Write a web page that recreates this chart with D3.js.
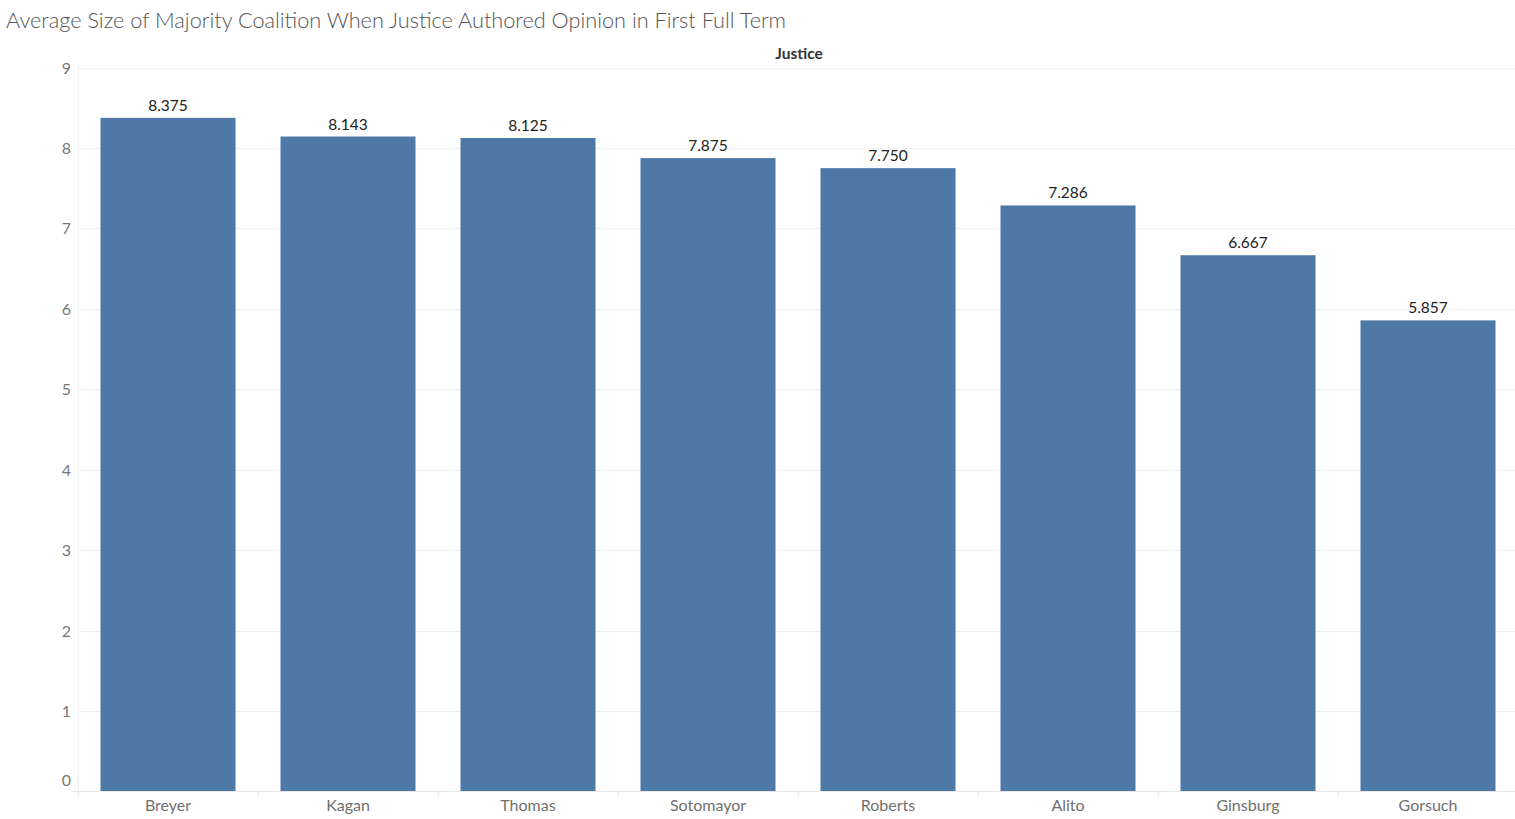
<!DOCTYPE html>
<html><head><meta charset="utf-8">
<script src="https://cdn.jsdelivr.net/npm/d3@7"></script>
<style>body{margin:0;background:#fff;font-family:Lato,"Open Sans",sans-serif;}</style>
</head><body><svg id="c" width="1515" height="819"></svg>
<script>
const justices = ["Breyer","Kagan","Thomas","Sotomayor","Roberts","Alito","Ginsburg","Gorsuch"];
const avgSize = [8.375,8.143,8.125,7.875,7.750,7.286,6.667,5.857];
const valueLabels = ["8.375","8.143","8.125","7.875","7.750","7.286","6.667","5.857"];
const yTicks = [0,1,2,3,4,5,6,7,8,9];

const svg = d3.select("#c");
const L = 78, R = 1518, T = 67.6, B = 791.4;
const x = d3.scaleBand().domain(justices).range([L, R]).paddingInner(0.25).paddingOuter(0.125);
const y = d3.scaleLinear().domain([0, 9]).range([B, T]);

svg.append("text").attr("x", 6).attr("y", 28).attr("font-size", 21.7).attr("font-weight", 300).attr("fill", "#555")
  .text("Average Size of Majority Coalition When Justice Authored Opinion in First Full Term");
svg.append("text").attr("x", 799).attr("y", 59).attr("text-anchor","middle").attr("font-size", 15.5)
  .attr("font-weight","bold").attr("fill","#333").text("Justice");

// gridlines
svg.append("g").selectAll("line").data(yTicks).join("line")
  .attr("x1", L).attr("x2", 1515).attr("y1", d => Math.round(y(d))+0.5).attr("y2", d => Math.round(y(d))+0.5)
  .attr("stroke", "#f0f0f0").attr("stroke-width", 1);
// y axis line
svg.append("line").attr("x1", L+0.5).attr("x2", L+0.5).attr("y1", T-2).attr("y2", B).attr("stroke","#f0f0f0");
// y tick labels
svg.append("g").selectAll("text").data(yTicks).join("text")
  .attr("x", 71).attr("y", d => y(d) + (d===0 ? -5 : 6)).attr("text-anchor","end")
  .attr("font-size", 16).attr("fill", "#777").text(d => d);

// bars
svg.append("g").selectAll("rect").data(justices).join("rect")
  .attr("x", d => x(d)).attr("width", x.bandwidth())
  .attr("y", (d,i) => y(avgSize[i])).attr("height", (d,i) => y(0) - y(avgSize[i]))
  .attr("fill", "#4e79a7");
// value labels
svg.append("g").selectAll("text").data(justices).join("text")
  .attr("x", d => x(d) + x.bandwidth()/2).attr("y", (d,i) => y(avgSize[i]) - 7)
  .attr("text-anchor","middle").attr("font-size", 15.5).attr("fill","#222").text((d,i) => valueLabels[i]);

// baseline
svg.append("line").attr("x1", 72).attr("x2", 1515).attr("y1", Math.round(B)+0.5).attr("y2", Math.round(B)+0.5).attr("stroke","#e8e8e8");
// category separators
const step = x.step();
svg.append("g").selectAll("line").data(d3.range(9)).join("line")
  .attr("x1", i => Math.round(L + i*step)+0.5).attr("x2", i => Math.round(L + i*step)+0.5)
  .attr("y1", B).attr("y2", B+6).attr("stroke","#e8e8e8");
// x labels
svg.append("g").selectAll("text").data(justices).join("text")
  .attr("x", d => x(d) + x.bandwidth()/2).attr("y", 811).attr("text-anchor","middle")
  .attr("font-size", 16).attr("fill","#707070").text(d => d);
</script></body></html>
